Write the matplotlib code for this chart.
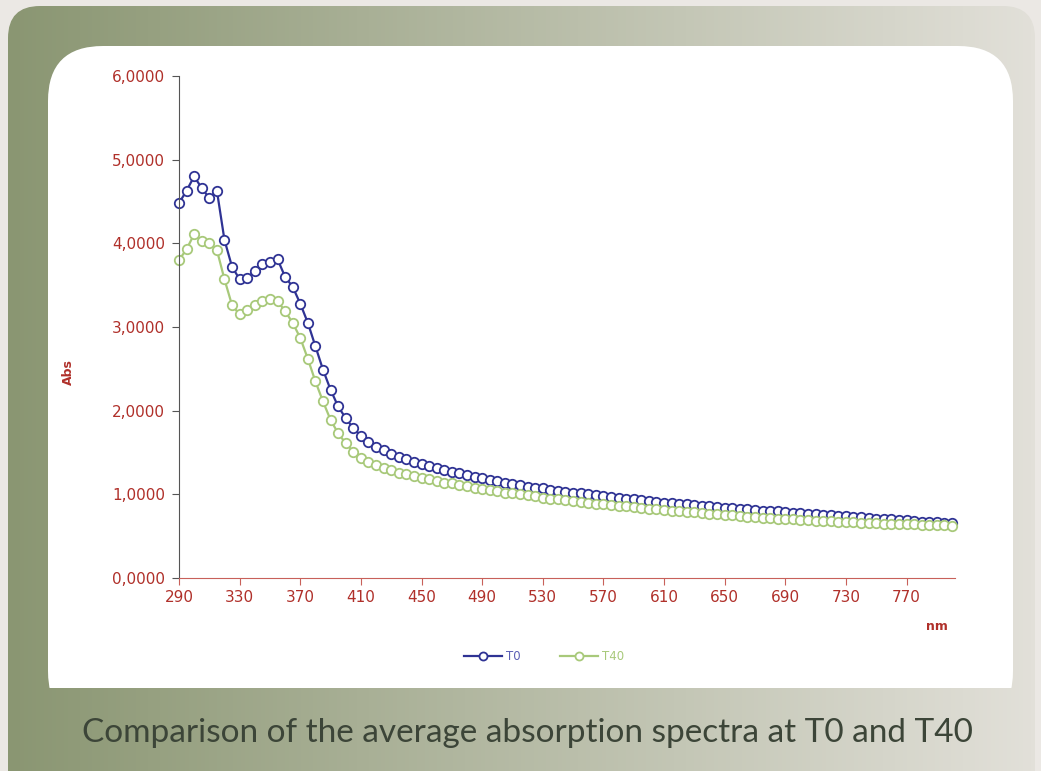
#!/usr/bin/env python3

import matplotlib
matplotlib.use('Agg')
import matplotlib.pyplot as plt
from matplotlib.patches import FancyBboxPatch, Rectangle
from matplotlib.ticker import FuncFormatter
import numpy as np

# wavelengths (nm), one reading every 5 nm
nm = list(range(290, 801, 5))

t0 = [4.48, 4.63, 4.80, 4.66, 4.54, 4.63, 4.04, 3.72, 3.57, 3.59,
      3.67, 3.75, 3.78, 3.81, 3.60, 3.48, 3.28, 3.05, 2.77, 2.49,
      2.25, 2.05, 1.91, 1.79, 1.70, 1.63, 1.57, 1.53, 1.48, 1.45,
      1.42, 1.39, 1.36, 1.34, 1.31, 1.29, 1.27, 1.25, 1.23, 1.21,
      1.19, 1.17, 1.155, 1.14, 1.12, 1.11, 1.09, 1.08, 1.07, 1.055,
      1.04, 1.03, 1.02, 1.01, 1.00, 0.99, 0.98, 0.97, 0.96, 0.95,
      0.94, 0.93, 0.92, 0.91, 0.90, 0.895, 0.89, 0.88, 0.87, 0.865,
      0.86, 0.85, 0.84, 0.835, 0.83, 0.82, 0.81, 0.805, 0.80, 0.795,
      0.79, 0.78, 0.775, 0.77, 0.76, 0.755, 0.75, 0.745, 0.74, 0.73,
      0.725, 0.72, 0.71, 0.705, 0.70, 0.695, 0.69, 0.68, 0.675, 0.67,
      0.665, 0.66, 0.655]

t40 = [3.80, 3.93, 4.11, 4.03, 4.00, 3.92, 3.57, 3.26, 3.15, 3.20,
       3.26, 3.31, 3.34, 3.31, 3.19, 3.05, 2.87, 2.62, 2.35, 2.11,
       1.89, 1.73, 1.61, 1.51, 1.44, 1.39, 1.35, 1.32, 1.29, 1.26,
       1.24, 1.22, 1.20, 1.18, 1.16, 1.14, 1.13, 1.11, 1.10, 1.08,
       1.06, 1.05, 1.04, 1.02, 1.01, 1.00, 0.99, 0.98, 0.96, 0.95,
       0.94, 0.93, 0.92, 0.91, 0.90, 0.89, 0.88, 0.87, 0.86, 0.855,
       0.845, 0.835, 0.83, 0.82, 0.81, 0.805, 0.80, 0.79, 0.785, 0.775,
       0.77, 0.76, 0.755, 0.75, 0.74, 0.735, 0.73, 0.72, 0.715, 0.71,
       0.705, 0.70, 0.695, 0.69, 0.685, 0.68, 0.68, 0.675, 0.67, 0.665,
       0.66, 0.66, 0.655, 0.65, 0.65, 0.645, 0.64, 0.64, 0.635, 0.635,
       0.63, 0.63, 0.625]

xticks = list(range(290, 771, 40))
yticks = [0, 1, 2, 3, 4, 5, 6]
caption = 'Comparison of the average absorption spectra at T0 and T40'

W, H = 1041, 771
fig = plt.figure(figsize=(W / 100, H / 100), dpi=100)
fig.patch.set_facecolor('#ebe8e4')

# background card in pixel coordinates
bg = fig.add_axes([0, 0, 1, 1])
bg.set_xlim(0, W)
bg.set_ylim(H, 0)
bg.axis('off')

outer = FancyBboxPatch((8, 6), 1027, 800, boxstyle='round,pad=0,rounding_size=32',
                       fc='none', ec='none')
bg.add_patch(outer)
grad = np.linspace(0, 1, 256).reshape(1, -1)
c1 = np.array([138, 150, 114]) / 255
c2 = np.array([226, 224, 217]) / 255
img = (c1[None, None, :] * (1 - grad[..., None]) + c2[None, None, :] * grad[..., None])
im = bg.imshow(img, extent=(8, 1035, 806, 6), aspect='auto', zorder=1)
im.set_clip_path(outer)

white = FancyBboxPatch((48, 46), 965, 680, boxstyle='round,pad=0,rounding_size=55',
                       fc='white', ec='none', zorder=2)
bg.add_patch(white)
clip = Rectangle((0, 0), W, 688, transform=bg.transData)
white.set_clip_path(clip)

bg.text(527, 733, caption, ha='center', va='center', fontsize=24,
        family='Lato', color='#3c4538')

# chart
red = '#b0302a'
ax = fig.add_axes([179 / W, 1 - 578 / H, 776 / W, 502 / H])
ax.set_facecolor('none')
ax.plot(nm, t0, '-o', color='#2f3394', lw=1.6, ms=6.8, mew=1.3,
        mfc='white', label='T0', clip_on=False)
ax.plot(nm, t40, '-o', color='#a8c97a', lw=1.6, ms=6.8, mew=1.3,
        mfc='white', label='T40', clip_on=False)

ax.set_xlim(290, 802)
ax.set_ylim(0, 6)
ax.set_xticks(xticks)
ax.set_yticks(yticks)
ax.yaxis.set_major_formatter(FuncFormatter(lambda v, p: f'{v:.4f}'.replace('.', ',')))
ax.spines['top'].set_visible(False)
ax.spines['right'].set_visible(False)
ax.spines['left'].set_color('#555555')
ax.spines['bottom'].set_color('#c8605a')
ax.tick_params(axis='y', colors='#555555', labelcolor=red, length=5, pad=5, labelsize=11)
ax.tick_params(axis='x', colors='#c8605a', labelcolor=red, length=5, pad=4, labelsize=11)

fig.text(68 / W, 1 - 372 / H, 'Abs', rotation=90, ha='center', va='center',
         fontsize=9, fontweight='bold', color=red)
fig.text(937 / W, 1 - 627 / H, 'nm', ha='center', va='center',
         fontsize=9, fontweight='bold', color=red)

leg = ax.legend(loc='center', bbox_to_anchor=(544 / W, 1 - 657 / H),
                bbox_transform=fig.transFigure, ncol=2, frameon=False,
                fontsize=8.5, handlelength=3.2, handletextpad=0.3,
                columnspacing=3.4, borderpad=0, markerscale=0.85,
                labelcolor=['#5b5fb5', '#a8c97a'])

plt.savefig('out.png', dpi=100, facecolor=fig.get_facecolor())
